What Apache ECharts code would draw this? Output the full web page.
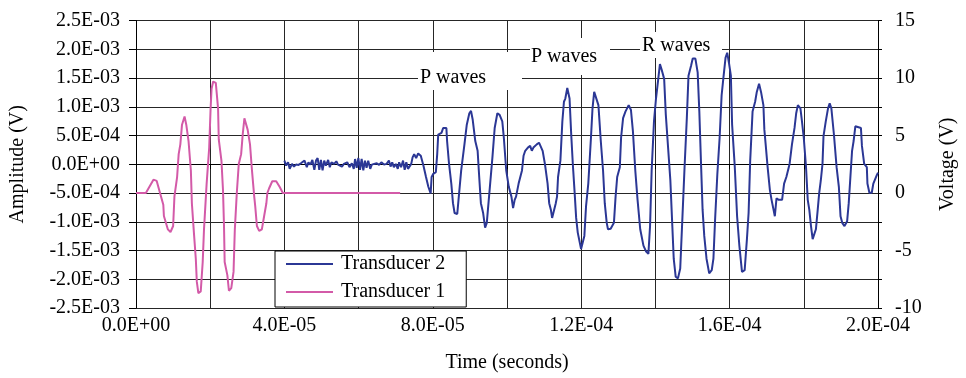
<!DOCTYPE html>
<html>
<head>
<meta charset="utf-8">
<script src="https://cdn.jsdelivr.net/npm/echarts@6/dist/echarts.min.js"></script>
<style>
html,body{margin:0;padding:0;background:#fff;}
#chart{width:966px;height:378px;}
</style>
</head>
<body>
<div id="chart"></div>
<script>
// Transducer 2 (left axis, Amplitude): time in microseconds, amplitude in units of 1E-04 V
const t2_us = [40.0,40.46,40.99,41.43,42.05,42.58,43.12,43.82,44.44,44.89,45.42,46.04,46.48,47.01,47.54,48.07,48.52,48.96,49.40,49.84,50.29,50.73,51.17,51.79,52.24,52.68,53.39,54.00,54.45,54.98,55.51,56.04,56.49,56.93,57.55,58.17,58.70,59.05,59.49,59.94,60.38,60.82,61.27,61.71,62.15,62.59,63.13,63.57,64.19,64.89,65.51,66.13,66.84,67.55,68.17,68.61,69.06,69.50,70.03,70.56,70.92,71.45,71.98,72.42,72.86,73.31,73.75,74.19,74.55,74.98,75.51,76.05,76.41,76.76,77.47,78.17,78.80,79.42,
79.68,80.13,80.82,81.19,81.46,82.34,82.79,83.66,83.85,84.38,84.99,85.44,85.87,86.59,86.93,87.65,88.53,89.16,89.85,90.30,90.76,91.45,92.08,92.51,92.96,93.57,94.10,94.55,95.16,96.07,96.68,97.40,98.01,98.73,99.15,99.79,100.48,101.19,101.64,102.07,102.44,103.13,104.04,104.46,104.91,105.63,105.97,106.24,106.69,107.12,107.57,108.02,108.63,109.16,109.61,110.22,110.94,111.37,111.82,112.16,112.69,113.15,113.49,113.76,114.39,114.92,115.35,115.72,116.25,116.86,117.31,117.74,118.19,118.64,119.07,119.97,120.40,120.85,121.30,121.91,122.63,123.05,123.50,123.95,124.64,125.28,125.89,126.35,126.88,127.22,127.94,128.82,129.27,129.70,130.41,130.75,131.29,131.92,132.80,133.41,133.94,134.58,135.19,135.91,136.78,137.50,138.11,138.56,138.99,139.62,140.16,140.77,141.22,141.64,142.36,142.81,143.42,144.03,144.56,144.94,145.47,146.08,146.69,147.22,147.86,148.47,148.92,149.61,150.06,150.78,151.39,151.84,152.27,152.72,153.17,153.78,154.50,155.19,155.64,156.09,156.70,157.31,157.85,158.30,158.91,159.36,159.81,160.34,160.68,161.40,162.02,162.63,163.34,164.06,164.67,165.12,165.55,166.19,166.88,167.33,167.94,168.47,169.11,169.37,169.72,170.25,170.86,171.31,171.76,172.19,172.64,173.25,174.15,174.69,175.30,176.17,176.81,177.50,177.95,178.40,179.09,179.46,179.99,180.60,181.06,181.48,181.94,182.39,182.81,183.26,183.71,184.14,184.59,185.04,185.31,185.92,186.53,186.98,187.43,188.12,188.84,189.45,189.90,190.36,190.97,191.68,192.11,192.56,193.01,193.43,193.89,194.34,195.40,195.67,196.28,196.99,197.15,197.68,198.32,198.74,199.65,200.0];
const a2_e4 = [0.63,-0.23,0.34,-0.80,0.06,-0.40,-0.06,-0.11,0.17,0.06,0.63,-0.51,0.34,-0.06,0.74,-0.97,0.63,1.08,-0.97,0.74,-1.08,0.63,-0.23,0.74,-0.51,0.34,0.06,0.51,-0.06,0.17,-0.40,0.06,-0.23,0.34,-0.51,0.17,-0.80,0.91,-0.63,1.08,-0.97,0.91,-1.08,0.63,-0.63,0.63,-0.80,-0.06,0.06,0.17,-0.11,0.34,-0.06,0.06,0.63,-0.40,0.34,-0.51,0.06,-0.80,0.34,-0.51,0.63,-0.97,0.34,-0.80,-0.51,0.06,1.19,1.76,1.08,1.88,2.22,1.48,-0.23,-2.22,-3.92,-5.07,
-2.22,-1.66,-1.37,1.76,5.17,5.46,6.31,6.31,4.04,0.05,-3.36,-6.77,-8.48,-8.65,-6.19,-1.08,3.46,6.88,8.87,9.27,7.73,4.04,2.34,-2.22,-6.77,-8.48,-11.04,-10.19,-5.63,1.19,6.31,8.87,8.58,7.46,4.61,-1.08,-3.92,-5.63,-7.63,-6.19,-5.63,-3.36,-1.08,1.48,2.34,2.90,2.61,3.19,2.34,2.90,2.61,3.46,3.75,3.46,2.34,0.05,-3.36,-6.77,-7.90,-9.33,-9.04,-6.77,-5.63,-2.22,0.63,7.46,10.87,11.43,13.26,11.43,5.17,0.05,-4.49,-9.33,-11.89,-14.73,-15.02,-12.46,-7.34,-3.36,4.61,9.73,12.58,12.68,10.29,4.04,-1.08,-6.77,-10.19,-11.31,-11.21,-10.19,-5.63,-2.22,-0.51,4.61,8.02,9.16,10.29,9.44,5.75,-1.08,-6.19,-11.31,-14.16,-15.19,-15.58,-10.75,-1.08,7.46,11.43,14.85,17.41,16.55,14.85,8.58,2.90,-2.78,-10.75,-16.43,-19.57,-19.85,-18.14,-10.19,-0.51,8.02,15.41,17.12,18.38,18.38,15.99,9.16,0.63,-7.90,-12.46,-16.43,-18.99,-18.43,-16.43,-9.61,-1.66,4.61,12.00,14.85,18.55,19.40,17.70,15.41,6.88,-0.51,-9.04,-14.16,-18.72,-18.43,-13.02,-8.48,0.63,9.16,10.87,12.58,13.99,12.58,10.29,6.02,3.46,-0.51,-4.49,-6.19,-7.63,-9.04,-5.92,-6.19,-6.19,-3.36,-2.22,0.05,3.46,6.31,8.87,10.29,9.73,7.73,4.61,-0.51,-6.19,-7.90,-10.75,-13.02,-13.31,-11.31,-8.19,-5.07,-2.78,0.05,4.90,7.46,9.73,10.58,9.73,5.17,-0.51,-3.92,-9.04,-10.19,-10.75,-9.90,-6.77,-2.22,2.34,4.04,6.60,6.43,6.31,3.19,0.05,-0.51,-3.36,-4.95,-4.95,-3.36,-1.93,-1.45];

// Transducer 1 (right axis, Voltage): time in microseconds, voltage in V
const t1_us = [0,2.66,4.70,5.58,7.36,7.52,8.58,9.30,10.01,10.36,11.08,11.50,11.95,12.40,13.09,13.55,14.16,14.79,15.06,15.67,16.12,16.39,16.81,17.45,17.98,18.33,19.04,19.73,20.11,20.37,20.80,21.51,22.12,22.31,23.03,23.45,23.72,23.90,24.62,25.05,25.68,26.29,26.64,27.17,27.70,28.34,28.76,29.22,29.67,30.09,30.73,31.26,31.87,32.14,32.59,33.20,33.92,34.53,35.14,35.40,35.86,36.73,37.79,38.70,39.58,50.0,60.0,71.2];
const v1 = [0,0,1.16,1.05,-1.02,-2.0,-3.16,-3.39,-2.87,-0.3,1.39,3.38,4.23,5.94,6.65,5.94,4.52,1.96,-0.89,-3.73,-5.72,-7.71,-8.70,-8.56,-6.0,-3.16,0.82,3.95,7.36,9.07,9.69,9.58,7.36,4.66,2.82,0.26,-2.87,-6.0,-7.14,-8.5,-8.27,-6.86,-3.16,0,2.52,3.38,5.08,6.5,6.36,5.51,4.23,1.96,-0.32,-1.17,-2.87,-3.3,-3.16,-2.02,-0.89,0,0.39,1.02,1.02,0.54,0,0,0,0];

const seriesNames = ['Transducer 2', 'Transducer 1'];
const annotations = ['P waves', 'P waves', 'R waves'];
const xTitle = 'Time (seconds)';
const yLeftTitle = 'Amplitude (V)';
const yRightTitle = 'Voltage (V)';

const FONT = '"Liberation Serif", "Times New Roman", serif';
const FS = 20;

function sci(v) {
  if (Math.abs(v) < 1e-15) return '0.0E+00';
  let e = Math.floor(Math.log10(Math.abs(v)) + 1e-9);
  let m = v / Math.pow(10, e);
  if (Math.abs(m) >= 9.95) { m /= 10; e += 1; }
  return m.toFixed(1) + 'E' + (e < 0 ? '-' : '+') + String(Math.abs(e)).padStart(2, '0');
}

const d2 = t2_us.map((t, i) => [t * 1e-6, a2_e4[i] * 1e-4]);
const d1 = t1_us.map((t, i) => [t * 1e-6, v1[i]]);

const chart = echarts.init(document.getElementById('chart'), null, {renderer: 'canvas'});
const gridCol = '#262626';
const labelStyle = {fontFamily: FONT, fontSize: FS, color: '#000'};

chart.setOption({
  animation: false,
  backgroundColor: '#fff',
  grid: {left: 135, right: 78, top: 20.5, bottom: 64.5, containLabel: false},
  xAxis: {
    type: 'value', min: 0, max: 2e-4, interval: 2e-5,
    name: xTitle, nameLocation: 'middle', nameGap: 45,
    nameTextStyle: labelStyle,
    axisLine: {show: true, lineStyle: {color: '#000', width: 1}},
    axisTick: {show: true, length: 5, lineStyle: {color: '#000'}},
    axisLabel: Object.assign({margin: 8, formatter: v => (Math.round(v / 2e-5) % 2 === 0 ? sci(v) : '')}, labelStyle),
    splitLine: {show: true, lineStyle: {color: gridCol, width: 1}}
  },
  yAxis: [{
    type: 'value', min: -2.5e-3, max: 2.5e-3, interval: 5e-4, position: 'left',
    name: yLeftTitle, nameLocation: 'middle', nameGap: 108, nameRotate: 90,
    nameTextStyle: labelStyle,
    axisLine: {show: true, lineStyle: {color: '#000', width: 1}},
    axisTick: {show: true, length: 7, lineStyle: {color: '#000'}},
    axisLabel: Object.assign({margin: 16, formatter: v => sci(v)}, labelStyle),
    splitLine: {show: true, lineStyle: {color: gridCol, width: 1}}
  }, {
    type: 'value', min: -10, max: 15, interval: 2.5, position: 'right',
    name: yRightTitle, nameLocation: 'middle', nameGap: 60, nameRotate: 90,
    nameTextStyle: labelStyle,
    axisLine: {show: true, lineStyle: {color: '#000', width: 1}},
    axisTick: {show: true, length: 4, lineStyle: {color: '#000'}},
    axisLabel: Object.assign({margin: 17, formatter: v => (Math.abs(v % 5) < 1e-9 ? String(v) : '')}, labelStyle),
    splitLine: {show: false}
  }],
  legend: {
    orient: 'vertical', left: 275, top: 251,
    data: seriesNames,
    backgroundColor: '#fff', borderColor: '#000', borderWidth: 1, borderRadius: 0,
    padding: [3, 21, 5, 11], itemGap: 8, itemWidth: 47, itemHeight: 2, icon: 'rect',
    textStyle: {fontFamily: FONT, fontSize: FS, color: '#000', lineHeight: 20, padding: [0, 0, 0, 3]}
  },
  graphic: [
    {type: 'rect', shape: {x: 418, y: 52, width: 104, height: 38}, style: {fill: '#fff'}, z: 1},
    {type: 'text', x: 420, y: 78, style: {text: annotations[0], font: FS + 'px ' + FONT, fill: '#000', verticalAlign: 'middle'}, z: 1},
    {type: 'rect', shape: {x: 530, y: 38, width: 80, height: 37}, style: {fill: '#fff'}, z: 1},
    {type: 'text', x: 531, y: 57, style: {text: annotations[1], font: FS + 'px ' + FONT, fill: '#000', verticalAlign: 'middle'}, z: 1},
    {type: 'rect', shape: {x: 640, y: 32, width: 82, height: 26}, style: {fill: '#fff'}, z: 1},
    {type: 'text', x: 642, y: 46, style: {text: annotations[2], font: FS + 'px ' + FONT, fill: '#000', verticalAlign: 'middle'}, z: 1}
  ],
  series: [{
    name: seriesNames[0], type: 'line', yAxisIndex: 0, data: d2,
    showSymbol: false, symbol: 'none', z: 3,
    lineStyle: {color: '#2b3795', width: 2}, itemStyle: {color: '#2b3795'}
  }, {
    name: seriesNames[1], type: 'line', yAxisIndex: 1, data: d1,
    showSymbol: false, symbol: 'none', z: 3,
    lineStyle: {color: '#d35aa8', width: 2}, itemStyle: {color: '#d35aa8'}
  }]
});
</script>
</body>
</html>
